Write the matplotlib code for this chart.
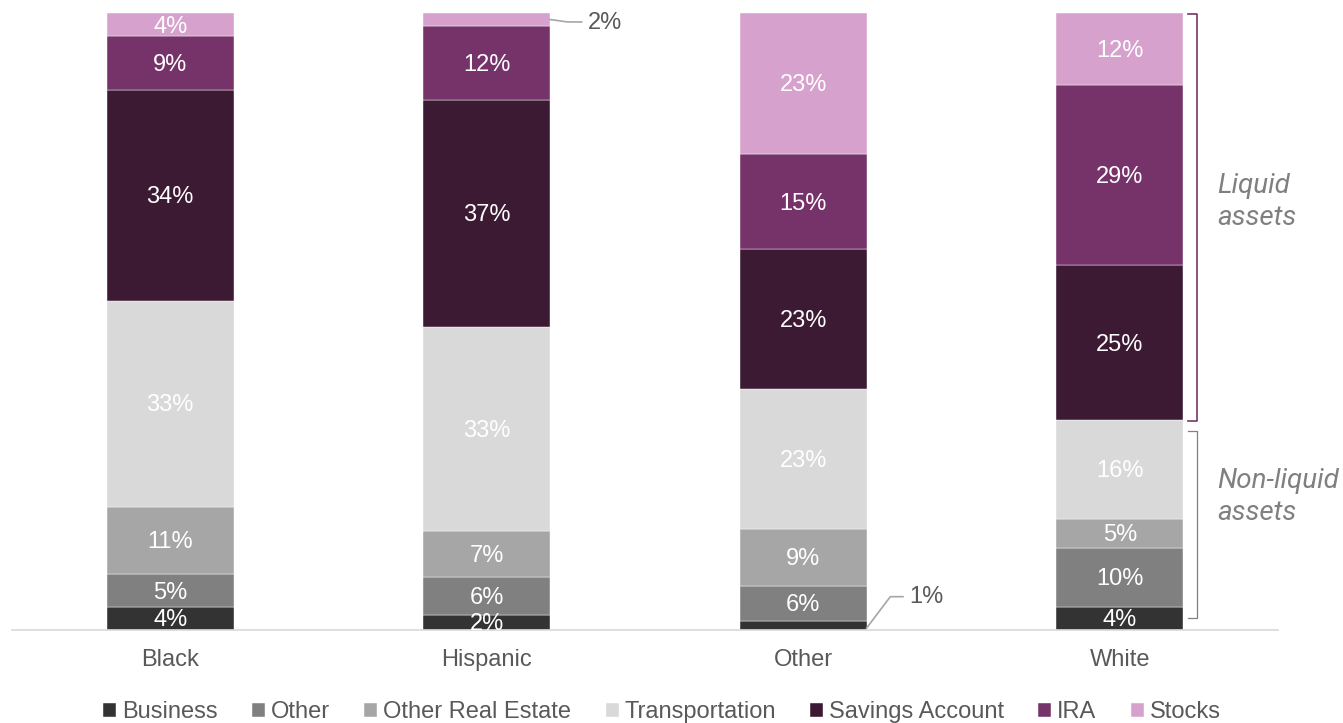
import matplotlib.pyplot as plt
import numpy as np

groups = ['Black', 'Hispanic', 'Other', 'White']
series = ['Business', 'Other', 'Other Real Estate', 'Transportation',
          'Savings Account', 'IRA', 'Stocks']
colors = ['#333333', '#808080', '#a6a6a6', '#d9d9d9',
          '#3c1a33', '#76336a', '#d6a1cd']

# share of assets (%) per group, bottom to top
business = [3.7, 2.4, 1.4, 3.7]
other = [5.3, 6.2, 5.8, 9.6]
other_re = [11.0, 7.4, 9.2, 4.7]
transport = [33.4, 33.1, 22.7, 16.0]
savings = [34.2, 36.8, 22.6, 25.1]
ira = [8.6, 12.0, 15.4, 29.2]
stocks = [3.8, 2.1, 22.9, 11.7]
values = [business, other, other_re, transport, savings, ira, stocks]

W, H = 1343, 723
fig = plt.figure(figsize=(W / 100, H / 100), dpi=100)
ax = fig.add_axes([12 / W, (H - 630) / H, 1266 / W, 617 / H])

x = np.arange(len(groups))
bottom = np.zeros(len(groups))
bars = []
for name, vals, c in zip(series, values, colors):
    b = ax.bar(x, vals, 0.4, bottom=bottom, color=c, label=name,
               edgecolor='white', linewidth=0.3)
    bars.append(b)
    bottom += np.array(vals)

# data labels inside segments (tiny ones get callouts instead)
callouts = {(6, 1), (0, 2)}
for i, b in enumerate(bars):
    for j, rect in enumerate(b):
        if (i, j) in callouts:
            continue
        v = values[i][j]
        ax.text(rect.get_x() + rect.get_width() / 2,
                rect.get_y() + rect.get_height() / 2 - 0.3,
                f'{v:.0f}%', ha='center', va='center', color='white',
                fontsize=17, family='Liberation Sans')

# callout: Hispanic stocks
r = bars[6][1]
y0 = r.get_y() + r.get_height() / 2
ax.plot([r.get_x() + r.get_width(), 1.255, 1.3], [y0, y0 - 0.4, y0 - 0.4],
        color='#a6a6a6', lw=1.2, clip_on=False)
ax.text(1.32, y0 - 0.5, f'{stocks[1]:.0f}%', ha='left', va='center',
        color='#595959', fontsize=17, family='Liberation Sans')

# callout: Other business
r = bars[0][2]
ax.plot([r.get_x() + r.get_width(), 2.275, 2.315], [0.3, 5.4, 5.4],
        color='#a6a6a6', lw=1.2, clip_on=False)
ax.text(2.335, 5.3, f'{business[2]:.0f}%', ha='left', va='center',
        color='#595959', fontsize=17, family='Liberation Sans')

ax.set_xlim(-0.5, 3.5)
ax.set_ylim(0, 100)
ax.set_yticks([])
ax.set_xticks(x)
ax.set_xticklabels(groups, fontsize=17, family='Liberation Sans', color='#595959')
ax.tick_params(axis='x', length=0, pad=14)
for s in ['top', 'right', 'left']:
    ax.spines[s].set_visible(False)
ax.spines['bottom'].set_color('#d9d9d9')
ax.spines['bottom'].set_linewidth(1.2)

# brackets for liquid / non-liquid groups
bx, tick = 3.244, 0.028
ax.plot([bx - tick, bx, bx, bx - tick], [99.8, 99.8, 33.8, 33.8],
        color='#76336a', lw=1.2, clip_on=False)
ax.plot([bx - tick, bx, bx, bx - tick], [32.2, 32.2, 1.9, 1.9],
        color='#808080', lw=0.9, clip_on=False)
ax.text(3.307, 69.4, 'Liquid\nassets', ha='left', va='center',
        fontsize=20, style='italic', color='#808080', family='Roboto',
        linespacing=1.3)
ax.text(3.307, 21.5, 'Non-liquid\nassets', ha='left', va='center',
        fontsize=20, style='italic', color='#808080', family='Roboto',
        linespacing=1.3)

fig.legend(loc='lower center', bbox_to_anchor=(0.493, -0.03), ncol=7,
           frameon=False, handlelength=0.55, handleheight=0.55,
           handletextpad=0.25, columnspacing=1.45,
           prop={'family': 'Liberation Sans', 'size': 17},
           labelcolor='#595959')

fig.savefig('out.png', dpi=100)
